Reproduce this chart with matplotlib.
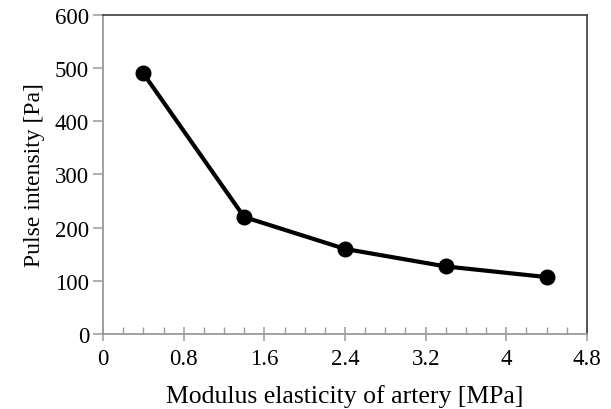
import matplotlib
matplotlib.use("Agg")
import matplotlib.pyplot as plt
from matplotlib.ticker import MultipleLocator

# data
modulus = [0.4, 1.4, 2.4, 3.4, 4.4]
intensity = [490, 220, 160, 127, 107]

x_ticks = [0, 0.8, 1.6, 2.4, 3.2, 4, 4.8]
x_tick_labels = ["0", "0.8", "1.6", "2.4", "3.2", "4", "4.8"]
y_ticks = [0, 100, 200, 300, 400, 500, 600]

plt.rcParams['font.family'] = ['Liberation Serif', 'DejaVu Serif']

fig = plt.figure(figsize=(6.11, 4.10), dpi=100)
ax = fig.add_axes([0.1686, 0.183, 0.7921, 0.778])

ax.plot(modulus, intensity, color='black', linewidth=3, marker='o', markersize=10.5)

ax.set_xlim(0, 4.8)
ax.set_ylim(0, 600)
ax.set_xticks(x_ticks)
ax.set_xticklabels(x_tick_labels)
ax.set_yticks(y_ticks)
ax.xaxis.set_minor_locator(MultipleLocator(0.2))

for side in ['left', 'bottom']:
    ax.spines[side].set_color('#9a9a9a')
    ax.spines[side].set_linewidth(1.3)
for side in ['top', 'right']:
    ax.spines[side].set_color('#4a4a4a')
    ax.spines[side].set_linewidth(1.3)

ax.tick_params(axis='x', which='major', direction='inout', length=10, width=1.1,
               color='#9a9a9a', labelsize=16.5, pad=5)
ax.tick_params(axis='x', which='minor', direction='in', length=5, width=1.0, color='#9a9a9a')
ax.tick_params(axis='y', which='major', direction='out', length=7, width=1.1,
               color='#9a9a9a', labelsize=16.5, pad=3)

ax.set_xlabel("Modulus elasticity of artery [MPa]", fontsize=18.5, labelpad=11)
ax.set_ylabel("Pulse intensity [Pa]", fontsize=17, labelpad=7)

fig.savefig("out.png", dpi=100)
